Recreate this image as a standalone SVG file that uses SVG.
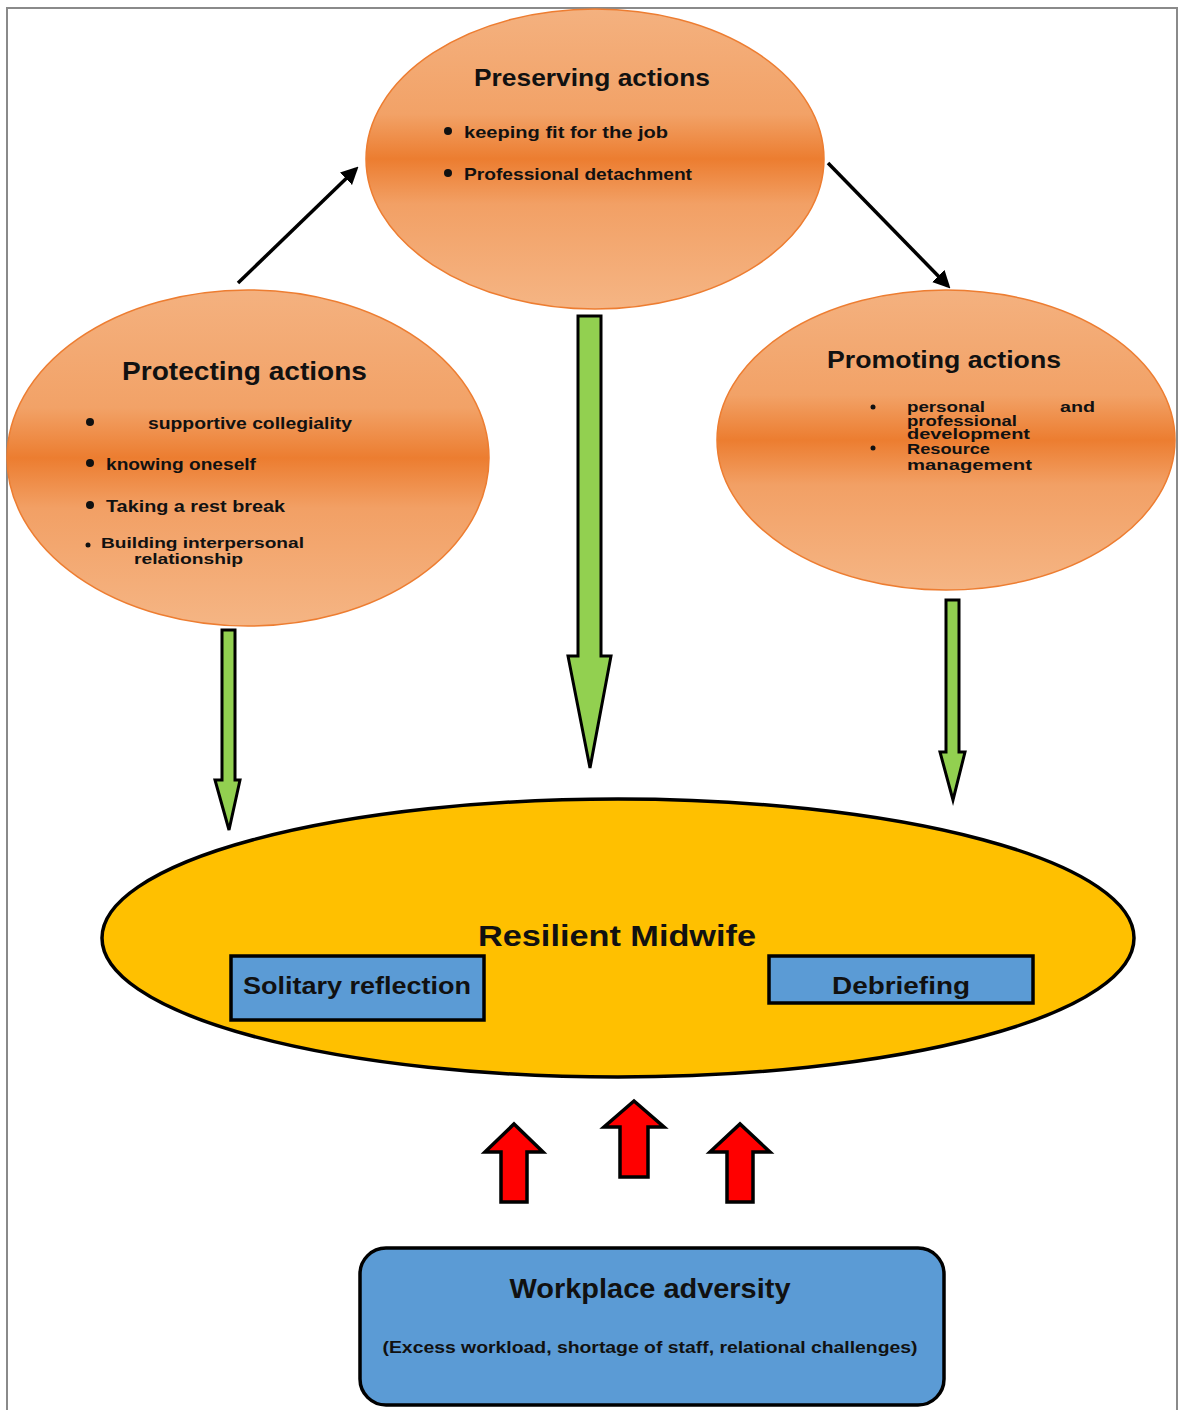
<svg xmlns="http://www.w3.org/2000/svg" width="1185" height="1410" viewBox="0 0 1185 1410">
<defs>
<linearGradient id="orange" x1="0" y1="0" x2="0" y2="1">
<stop offset="0" stop-color="#f4b17f"/>
<stop offset="0.35" stop-color="#f2a267"/>
<stop offset="0.5" stop-color="#ec7d30"/>
<stop offset="0.65" stop-color="#f2a065"/>
<stop offset="1" stop-color="#f5b584"/>
</linearGradient>
<marker id="ah" viewBox="0 0 10 10" refX="8" refY="5" markerWidth="5" markerHeight="5" orient="auto">
<path d="M0,0 L10,5 L0,10 z" fill="#000"/>
</marker>
</defs>
<style>
.oval{fill:url(#orange);stroke:#ed7d31;stroke-width:1.5}
.t{font-family:"Liberation Sans",Arial,sans-serif;font-weight:bold;fill:#111}
.green{fill:#92d050;stroke:#000;stroke-width:3;stroke-linejoin:miter}
.red{fill:#ff0000;stroke:#000;stroke-width:3.5;stroke-linejoin:miter}
.blue{fill:#5b9bd5;stroke:#000;stroke-width:3.5}
.line{stroke:#000;stroke-width:3.5;fill:none;marker-end:url(#ah)}
</style>
<rect x="0" y="0" width="1185" height="1410" fill="#fff"/>
<path d="M7,1410 V8 H1177 V1410" fill="none" stroke="#8a8a8a" stroke-width="2"/>

<g id="connectors">
<line class="line" x1="238" y1="283" x2="356" y2="169"/>
<line class="line" x1="828" y1="163" x2="948" y2="286"/>
<path class="green" d="M222,630 H235 V780 H240 L229,830 L215,780 H222 Z"/>
<path class="green" d="M578,316 H601 V656 H611 L590,768 L568,656 H578 Z"/>
<path class="green" d="M946,600 H959 V752 H965 L953,800 L940,752 H946 Z"/>
<path class="red" d="M501,1202 V1152 H485 L514,1124 L543,1152 H527 V1202 Z"/>
<path class="red" d="M620,1177 V1127 H604 L634,1101 L664,1127 H648 V1177 Z"/>
<path class="red" d="M727,1202 V1152 H710 L740,1124 L770,1152 H753 V1202 Z"/>
</g>

<g id="preserving">
<ellipse class="oval" cx="595" cy="159" rx="229" ry="150"/>
<text class="t" x="592" y="86" font-size="24" text-anchor="middle" textLength="236" lengthAdjust="spacingAndGlyphs">Preserving actions</text>
<circle cx="448" cy="131" r="4" fill="#111"/>
<text class="t" x="464" y="138" font-size="17" textLength="204" lengthAdjust="spacingAndGlyphs">keeping fit for the job</text>
<circle cx="448" cy="173" r="4" fill="#111"/>
<text class="t" x="464" y="180" font-size="17" textLength="228" lengthAdjust="spacingAndGlyphs">Professional detachment</text>
</g>

<g id="protecting">
<ellipse class="oval" cx="248" cy="458" rx="241" ry="168"/>
<text class="t" x="122" y="380" font-size="26" textLength="245" lengthAdjust="spacingAndGlyphs">Protecting  actions</text>
<circle cx="90" cy="422" r="4" fill="#111"/>
<text class="t" x="148" y="429" font-size="17" textLength="204" lengthAdjust="spacingAndGlyphs">supportive collegiality</text>
<circle cx="90" cy="463" r="4" fill="#111"/>
<text class="t" x="106" y="470" font-size="17" textLength="150" lengthAdjust="spacingAndGlyphs">knowing oneself</text>
<circle cx="90" cy="505" r="4" fill="#111"/>
<text class="t" x="106" y="512" font-size="17" textLength="179" lengthAdjust="spacingAndGlyphs">Taking a rest break</text>
<circle cx="88" cy="545" r="2.5" fill="#111"/>
<text class="t" x="101" y="548" font-size="15" textLength="203" lengthAdjust="spacingAndGlyphs">Building interpersonal</text>
<text class="t" x="134" y="564" font-size="15" textLength="109" lengthAdjust="spacingAndGlyphs">relationship</text>
</g>

<g id="promoting">
<ellipse class="oval" cx="946" cy="440" rx="229" ry="150"/>
<text class="t" x="827" y="368" font-size="24" textLength="234" lengthAdjust="spacingAndGlyphs">Promoting actions</text>
<circle cx="873" cy="407" r="2.5" fill="#111"/>
<text class="t" x="907" y="412" font-size="14" textLength="78" lengthAdjust="spacingAndGlyphs">personal</text>
<text class="t" x="1060" y="412" font-size="14" textLength="35" lengthAdjust="spacingAndGlyphs">and</text>
<text class="t" x="907" y="426" font-size="14" textLength="110" lengthAdjust="spacingAndGlyphs">professional</text>
<text class="t" x="907" y="439" font-size="14" textLength="123" lengthAdjust="spacingAndGlyphs">development</text>
<circle cx="873" cy="448" r="2.5" fill="#111"/>
<text class="t" x="907" y="454" font-size="14" textLength="83" lengthAdjust="spacingAndGlyphs">Resource</text>
<text class="t" x="907" y="470" font-size="14" textLength="125" lengthAdjust="spacingAndGlyphs">management</text>
</g>

<g id="resilient">
<ellipse cx="618" cy="938" rx="516" ry="139" fill="#ffc000" stroke="#000" stroke-width="3.5"/>
<text class="t" x="617" y="946" font-size="30" text-anchor="middle" textLength="278" lengthAdjust="spacingAndGlyphs">Resilient Midwife</text>
</g>

<g id="solitary">
<rect class="blue" x="231" y="956" width="253" height="64"/>
<text class="t" x="357" y="994" font-size="24" text-anchor="middle" textLength="228" lengthAdjust="spacingAndGlyphs">Solitary reflection</text>
</g>

<g id="debriefing">
<rect class="blue" x="769" y="956" width="264" height="47"/>
<text class="t" x="901" y="994" font-size="24" text-anchor="middle" textLength="138" lengthAdjust="spacingAndGlyphs">Debriefing</text>
</g>

<g id="adversity">
<rect class="blue" x="360" y="1248" width="584" height="157" rx="26" ry="26"/>
<text class="t" x="650" y="1298" font-size="28" text-anchor="middle" textLength="281" lengthAdjust="spacingAndGlyphs">Workplace adversity</text>
<text class="t" x="650" y="1353" font-size="17" text-anchor="middle" textLength="535" lengthAdjust="spacingAndGlyphs">(Excess workload, shortage of staff, relational challenges)</text>
</g>
</svg>
